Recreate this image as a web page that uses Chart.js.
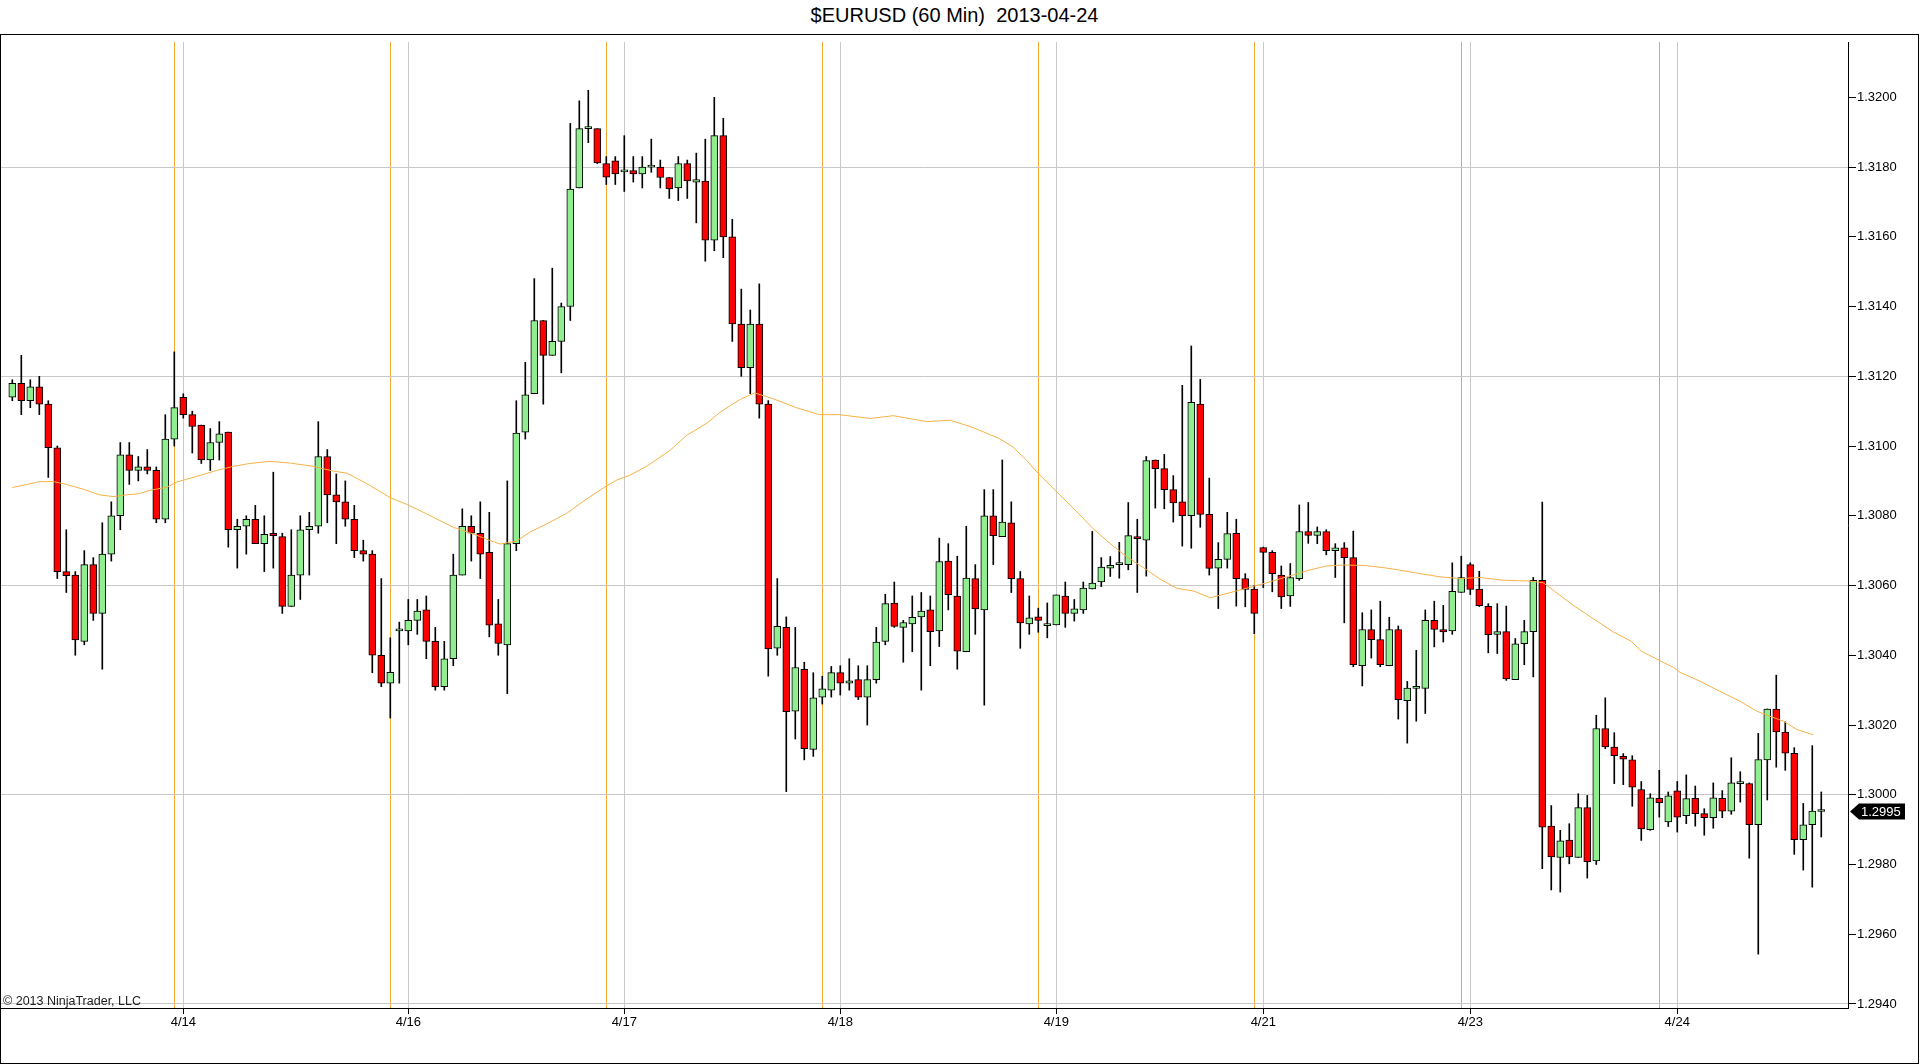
<!DOCTYPE html>
<html>
<head>
<meta charset="utf-8">
<script src="https://cdn.jsdelivr.net/npm/chart.js@4.4.0/dist/chart.umd.min.js"></script>
<style>
body { margin: 0; background: #fff; width: 1920px; height: 1064px; overflow: hidden; font-family: "Liberation Sans", Arial, sans-serif; }
#title { position: absolute; left: 0; top: 0; width: 1909px; height: 34px; text-align: center; font-size: 20px; line-height: 30px; color: #000; white-space: pre; }
#frame { position: absolute; left: 0; top: 34px; width: 1917px; height: 1028px; border: 1px solid #000; }
canvas { display: block; }
</style>
</head>
<body>
<div id="title">$EURUSD (60 Min)  2013-04-24</div>
<div id="frame"><canvas id="chart" width="1917" height="1028"></canvas></div>
<script>
"use strict";

// hourly bars, one per candle index
const opens = [
	1.3114, 1.3118, 1.3113, 1.3117, 1.3112, 1.30995, 1.3064, 1.3063, 1.3044, 1.3066,
	1.3052, 1.3069, 1.3080, 1.30975, 1.3093, 1.3094, 1.3093, 1.3079, 1.3102, 1.3114,
	1.3109, 1.3106, 1.3096, 1.3101, 1.3104, 1.3076, 1.3077, 1.3079, 1.3072, 1.3075,
	1.3074, 1.3054, 1.3063, 1.3076, 1.3077, 1.3097, 1.3086, 1.3084, 1.3079, 1.3070,
	1.3069, 1.3040, 1.3032, 1.3047, 1.3047, 1.3050, 1.3053, 1.3044, 1.3031, 1.3039,
	1.3063, 1.3077, 1.3075, 1.30695, 1.3049, 1.3043, 1.3072, 1.3104, 1.3115, 1.3136,
	1.3126, 1.3130, 1.3140, 1.3174, 1.3191, 1.3191, 1.3181, 1.31818, 1.31786, 1.3179,
	1.3178, 1.3180, 1.3180, 1.3177, 1.3174, 1.3181, 1.31757, 1.3176, 1.3159, 1.3189,
	1.3160, 1.3135, 1.31225, 1.3135, 1.3112, 1.3042, 1.3048, 1.3024, 1.3036, 1.3013,
	1.3028, 1.3030, 1.3035, 1.3032, 1.3033, 1.3028, 1.3033, 1.3044, 1.3055, 1.3048,
	1.3049, 1.3051, 1.3053, 1.3047, 1.3067, 1.3057, 1.3041, 1.3062, 1.3053, 1.3080,
	1.3074, 1.3078, 1.3062, 1.3049, 1.3051, 1.30485, 1.30487, 1.3057, 1.3052, 1.3053,
	1.3059, 1.3061, 1.3065, 1.3066, 1.3066, 1.3074, 1.3073, 1.3096, 1.30935, 1.30875,
	1.3084, 1.3080, 1.3112, 1.30804, 1.3065, 1.30675, 1.3075, 1.3062, 1.3059, 1.30709,
	1.30695, 1.3063, 1.3057, 1.3062, 1.30755, 1.30744, 1.30755, 1.3070, 1.30708, 1.3068,
	1.3037, 1.30474, 1.30445, 1.3037, 1.30474, 1.3027, 1.30305, 1.30305, 1.3050, 1.30474,
	1.3047, 1.3058, 1.3066, 1.3059, 1.3054, 1.3046, 1.30468, 1.3033, 1.30433, 1.30468,
	1.30615, 1.2991, 1.2982, 1.2987, 1.2982, 1.29963, 1.2981, 1.3019, 1.30137, 1.3011,
	1.3010, 1.30015, 1.2990, 1.2999, 1.29922, 1.30011, 1.2994, 1.2999, 1.29946, 1.29934,
	1.2999, 1.29953, 1.30032, 1.30032, 1.29914, 1.3010, 1.30246, 1.3018, 1.30119, 1.29871,
	1.29914, 1.29952
];
const highs = [
	1.3119, 1.3126, 1.3119, 1.3120, 1.3113, 1.3100, 1.3076, 1.3064, 1.3070, 1.3068,
	1.3078, 1.3084, 1.3101, 1.3101, 1.3097, 1.3099, 1.3094, 1.3109, 1.3127, 1.3115,
	1.3110, 1.3106, 1.3105, 1.3107, 1.3104, 1.3079, 1.3080, 1.3083, 1.3080, 1.30925,
	1.3075, 1.3076, 1.3080, 1.3081, 1.3107, 1.3099, 1.3092, 1.3090, 1.3083, 1.3073,
	1.3070, 1.3062, 1.3045, 1.30495, 1.3056, 1.3056, 1.3057, 1.3048, 1.3044, 1.3069,
	1.3082, 1.3080, 1.3084, 1.3081, 1.3056, 1.3090, 1.3113, 1.3124, 1.3148, 1.3136,
	1.3151, 1.3141, 1.31925, 1.3199, 1.3202, 1.3191, 1.3183, 1.3183, 1.3189, 1.3183,
	1.3183, 1.3188, 1.3182, 1.3177, 1.3183, 1.3182, 1.3184, 1.3188, 1.3200, 1.3194,
	1.3165, 1.3145, 1.3139, 1.31465, 1.3113, 1.3062, 1.3051, 1.3048, 1.3038, 1.3035,
	1.3034, 1.30368, 1.3037, 1.3039, 1.3037, 1.3037, 1.3048, 1.30575, 1.3061, 1.3050,
	1.3057, 1.3058, 1.3057, 1.30736, 1.3072, 1.30684, 1.3077, 1.3066, 1.30875, 1.30875,
	1.3096, 1.3084, 1.3064, 1.3057, 1.30535, 1.3055, 1.30573, 1.3061, 1.3056, 1.3061,
	1.30755, 1.3068, 1.30683, 1.30724, 1.30838, 1.3079, 1.3097, 1.3096, 1.30976, 1.30915,
	1.31174, 1.31287, 1.31191, 1.30908, 1.30723, 1.3081, 1.3079, 1.30634, 1.3060, 1.3071,
	1.3070, 1.30656, 1.30663, 1.30831, 1.30838, 1.30768, 1.3076, 1.3072, 1.30723, 1.30756,
	1.30522, 1.3053, 1.30555, 1.30509, 1.30484, 1.30325, 1.30414, 1.3053, 1.30555, 1.30543,
	1.30665, 1.30684, 1.30665, 1.30641, 1.30548, 1.30548, 1.30541, 1.30448, 1.3050, 1.30623,
	1.30839, 1.29969, 1.29898, 1.29917, 1.30003, 1.29998, 1.30228, 1.30278, 1.30178, 1.30118,
	1.30112, 1.30038, 1.30003, 1.3007, 1.30008, 1.30038, 1.30057, 1.30025, 1.2996, 1.30034,
	1.30012, 1.30106, 1.30066, 1.30034, 1.30176, 1.30246, 1.30343, 1.30209, 1.30135, 1.29975,
	1.30141, 1.30008
];
const lows = [
	1.3113, 1.3109, 1.3111, 1.3109, 1.3091, 1.3062, 1.3058, 1.3040, 1.3043, 1.3050,
	1.3036, 1.3067, 1.3076, 1.3089, 1.3090, 1.3092, 1.3078, 1.3078, 1.3100, 1.3108,
	1.3098, 1.3095, 1.3093, 1.3096, 1.3071, 1.3065, 1.3069, 1.3072, 1.3064, 1.3065,
	1.3052, 1.3054, 1.3056, 1.3063, 1.3075, 1.3078, 1.3072, 1.3077, 1.3068, 1.3067,
	1.3035, 1.3031, 1.3022, 1.3032, 1.3043, 1.3046, 1.3039, 1.3030, 1.3030, 1.3037,
	1.3063, 1.3067, 1.3062, 1.30453, 1.3040, 1.3029, 1.3070, 1.3102, 1.3115, 1.3112,
	1.3126, 1.3121, 1.3136, 1.3174, 1.3187, 1.3181, 1.3175, 1.3175, 1.3173, 1.31757,
	1.3174, 1.31785, 1.3174, 1.3171, 1.31704, 1.3171, 1.3164, 1.3153, 1.3156, 1.3154,
	1.3130, 1.3120, 1.3115, 1.3108, 1.3034, 1.3040, 1.30009, 1.3016, 1.3010, 1.3011,
	1.3026, 1.3028, 1.30286, 1.3030, 1.30273, 1.3020, 1.3032, 1.3043, 1.3048, 1.3038,
	1.3041, 1.3030, 1.3037, 1.30425, 1.3053, 1.3036, 1.3041, 1.3046, 1.30257, 1.3066,
	1.3074, 1.3058, 1.3042, 1.3046, 1.30466, 1.3045, 1.30487, 1.3048, 1.30498, 1.3052,
	1.3059, 1.30597, 1.30626, 1.30621, 1.30645, 1.3058, 1.30627, 1.30822, 1.3082, 1.30782,
	1.30713, 1.30707, 1.30767, 1.3063, 1.30534, 1.3065, 1.30541, 1.30539, 1.30462, 1.30594,
	1.30582, 1.30534, 1.3054, 1.30615, 1.30721, 1.3072, 1.30688, 1.30623, 1.30493, 1.30367,
	1.30312, 1.30392, 1.30367, 1.3037, 1.30217, 1.30148, 1.30211, 1.30233, 1.30424, 1.30438,
	1.3046, 1.3058, 1.30574, 1.3054, 1.30407, 1.30405, 1.30328, 1.3033, 1.30373, 1.30338,
	1.29788, 1.29727, 1.29721, 1.29802, 1.2982, 1.29761, 1.2980, 1.30132, 1.30032, 1.30029,
	1.29967, 1.29869, 1.29898, 1.29936, 1.29909, 1.29893, 1.29917, 1.2991, 1.29884, 1.29904,
	1.29934, 1.29944, 1.29979, 1.29818, 1.29543, 1.29985, 1.30079, 1.3007, 1.29829, 1.29784,
	1.29735, 1.29879
];
const closes = [
	1.3118, 1.3113, 1.3117, 1.3112, 1.30995, 1.3064, 1.30628, 1.30444, 1.3066, 1.3052,
	1.3069, 1.3080, 1.30975, 1.3093, 1.3094, 1.3093, 1.3079, 1.3102, 1.3111, 1.3109,
	1.31056, 1.3096, 1.3101, 1.31035, 1.3076, 1.3077, 1.3079, 1.3072, 1.30747, 1.30743,
	1.3054, 1.3063, 1.3076, 1.3077, 1.3097, 1.3086, 1.3084, 1.3079, 1.3070, 1.3069,
	1.3040, 1.3032, 1.30351, 1.3047, 1.3050, 1.30527, 1.3044, 1.3031, 1.3039, 1.3063,
	1.3077, 1.3075, 1.3069, 1.30486, 1.30434, 1.3072, 1.31037, 1.31147, 1.3136, 1.3126,
	1.3130, 1.3140, 1.31737, 1.3191, 1.3191, 1.31812, 1.31771, 1.3178, 1.31786, 1.3178,
	1.3180, 1.3180, 1.3177, 1.31737, 1.3181, 1.3176, 1.31764, 1.3159, 1.3189, 1.3160,
	1.3135, 1.31225, 1.3135, 1.3112, 1.30418, 1.30483, 1.30238, 1.30365, 1.30132, 1.30278,
	1.30304, 1.3035, 1.3032, 1.30327, 1.3028, 1.3033, 1.30438, 1.30548, 1.30483, 1.30494,
	1.30509, 1.30527, 1.30468, 1.30669, 1.30574, 1.30412, 1.30621, 1.30533, 1.3080, 1.30743,
	1.30782, 1.3062, 1.30493, 1.30507, 1.3050, 1.30485, 1.30573, 1.3052, 1.30533, 1.30593,
	1.30607, 1.30653, 1.30658, 1.3066, 1.30743, 1.30734, 1.30958, 1.30935, 1.30875, 1.30837,
	1.3080, 1.31125, 1.30804, 1.30649, 1.30675, 1.30749, 1.3062, 1.30589, 1.3052, 1.30695,
	1.30634, 1.30567, 1.30623, 1.30755, 1.30744, 1.30755, 1.3070, 1.30708, 1.3068, 1.30373,
	1.30474, 1.30445, 1.30373, 1.30474, 1.30273, 1.30306, 1.30305, 1.3050, 1.30474, 1.30467,
	1.30583, 1.30623, 1.30589, 1.30542, 1.30459, 1.30468, 1.30332, 1.30433, 1.30468, 1.30615,
	1.29907, 1.29822, 1.29868, 1.29822, 1.29963, 1.29808, 1.3019, 1.30137, 1.30112, 1.30102,
	1.30022, 1.29902, 1.29991, 1.29977, 1.29997, 1.29936, 1.29989, 1.29946, 1.29934, 1.29991,
	1.29953, 1.30034, 1.30032, 1.29914, 1.30101, 1.30246, 1.3018, 1.30119, 1.29871, 1.29914,
	1.29953, 1.29952
];

// moving average (candle index, price)
const maIndex = [
	0, 3.1, 4.6, 6.0, 7.9, 9.7, 11.2, 12.7, 14.0, 15.3, 17.2, 18.3, 20.9, 22.7, 24.6, 26.4,
	28.6, 30.9, 33.4, 35.7, 37.2, 39.4, 42.0, 43.8, 46.0, 49.0, 51.2, 53.1,
	54.2, 56.0, 57.5, 59.4, 61.6, 63.8, 66.0, 67.2, 68.6, 70.5, 73.1, 74.9, 77.2, 78.6, 79.7,
	80.9, 82.5, 84.5, 87.1, 89.7, 91.9, 95.3, 97.9, 101.6, 104.2, 106.4,
	107.5, 109.7, 111.2, 112.7, 114.0, 116.0, 118.3, 120.1, 122.0, 123.8, 125.7, 127.5, 129.4, 131.3, 133.1,
	134.2, 136.4, 139.4, 141.6, 143.8, 146.0, 147.9, 150.5, 152.7, 154.2, 156.0, 157.9,
	158.6, 160.9, 163.1, 165.7, 168.6, 170.1, 171.2, 173.4, 176.0, 177.9, 179.9, 181.0, 183.1, 184.6,
	185.3, 187.5, 189.7, 192.0, 193.8, 195.3, 196.8, 198.3, 200.1
];
const maValue = [
	1.30881, 1.30898, 1.30898, 1.3089, 1.30876, 1.3086, 1.30855, 1.3086, 1.30863, 1.30873, 1.30882, 1.30897, 1.30916, 1.3093, 1.30942, 1.3095,
	1.30956, 1.30951, 1.30942, 1.30928, 1.30922, 1.30892, 1.30852, 1.30833, 1.30806, 1.30767, 1.30748, 1.30729,
	1.30719, 1.30727, 1.30753, 1.30777, 1.30807, 1.30848, 1.30885, 1.30903, 1.30916, 1.30942, 1.30988, 1.3103, 1.31066, 1.31096, 1.31115,
	1.31134, 1.31152, 1.31136, 1.3111, 1.3109, 1.3109, 1.31079, 1.31087, 1.3107, 1.31074, 1.31056,
	1.31045, 1.31021, 1.30997, 1.30959, 1.30921, 1.3087, 1.30811, 1.30763, 1.3072, 1.30683, 1.30651, 1.30619, 1.30592, 1.30584, 1.30565,
	1.30572, 1.30587, 1.30608, 1.30625, 1.30642, 1.30656, 1.30659, 1.30657, 1.3065, 1.30644, 1.30636, 1.30628,
	1.30625, 1.3062, 1.30623, 1.30615, 1.30613, 1.30608, 1.30587, 1.30544, 1.30499, 1.30467, 1.3044, 1.30412, 1.30384, 1.30365,
	1.30351, 1.30326, 1.30297, 1.30268, 1.3024, 1.30225, 1.30211, 1.30187, 1.30172
];

const dateTickIndex = [19, 44, 68, 92, 116, 139, 162, 185];
const dateTickLabels = ["4/14", "4/16", "4/17", "4/18", "4/19", "4/21", "4/23", "4/24"];
const sessionBreakIndex = [18, 42, 66, 90, 114, 138, 161, 183];
const priceTicks = [1.2940, 1.2960, 1.2980, 1.3000, 1.3020, 1.3040, 1.3060, 1.3080, 1.3100, 1.3120, 1.3140, 1.3160, 1.3180, 1.3200];
const priceGridLines = [1.2940, 1.3000, 1.3060, 1.3120, 1.3180];

const upColor = "#90ee90";
const downColor = "#ff0000";

Chart.defaults.font.family = "'Liberation Sans', Arial, sans-serif";
Chart.defaults.font.size = 13;
Chart.defaults.color = "#000";

const buildCandles = () => {
	let wicks = [];
	let bodies = [];
	let bodyColors = [];
	for (let index = 0; index < closes.length; index++) {
		wicks.push({ x: index, y: [lows[index], highs[index]] });
		bodies.push({ x: index, y: [opens[index], closes[index]] });
		bodyColors.push(closes[index] >= opens[index] ? upColor : downColor);
	}
	return { wicks, bodies, bodyColors };
};

const lastPriceMarker = {
	id: "lastPriceMarker",
	afterDraw: chart => {
		let ctx = chart.ctx;
		let yScale = chart.scales.y;
		let lastClose = closes[closes.length - 1];
		let y = Math.round(yScale.getPixelForValue(lastClose)) + 0.5;
		let left = chart.chartArea.right + 2;
		ctx.save();
		ctx.fillStyle = "#000";
		ctx.beginPath();
		ctx.moveTo(left, y);
		ctx.lineTo(left + 9, y - 8);
		ctx.lineTo(left + 55, y - 8);
		ctx.lineTo(left + 55, y + 8);
		ctx.lineTo(left + 9, y + 8);
		ctx.closePath();
		ctx.fill();
		ctx.fillStyle = "#fff";
		ctx.font = "13px 'Liberation Sans', Arial, sans-serif";
		ctx.textBaseline = "middle";
		ctx.textAlign = "left";
		ctx.fillText(lastClose.toFixed(4), left + 11, y + 1);
		ctx.restore();
	}
};

const copyrightNote = {
	id: "copyrightNote",
	afterDatasetsDraw: chart => {
		let ctx = chart.ctx;
		ctx.save();
		ctx.fillStyle = "#222";
		ctx.font = "12.5px 'Liberation Sans', Arial, sans-serif";
		ctx.textBaseline = "alphabetic";
		ctx.textAlign = "left";
		ctx.fillText("\u00a9 2013 NinjaTrader, LLC", chart.chartArea.left + 2, chart.chartArea.bottom - 3);
		ctx.restore();
	}
};

const buildChart = () => {
	let canvas = document.querySelector("canvas#chart");
	let candles = buildCandles();
	new Chart(canvas, {
		type: "bar",
		data: {
			datasets: [{
				label: "SMA",
				type: "line",
				data: maIndex.map((index, i) => ({ x: index, y: maValue[i] })),
				borderColor: "rgb(245,178,70)",
				borderWidth: 1,
				pointRadius: 0,
				tension: 0,
				order: 1
			}, {
				label: "bodies",
				data: candles.bodies,
				backgroundColor: candles.bodyColors,
				borderColor: "#000",
				borderWidth: 1,
				borderSkipped: false,
				barThickness: 7,
				minBarLength: 2,
				grouped: false,
				order: 2
			}, {
				label: "wicks",
				data: candles.wicks,
				backgroundColor: "#000",
				borderWidth: 0,
				barThickness: 1,
				grouped: false,
				order: 3
			}]
		},
		options: {
			responsive: false,
			devicePixelRatio: 1,
			animation: false,
			layout: {
				padding: { top: 7, left: 0, right: 0, bottom: 0 }
			},
			scales: {
				x: {
					type: "linear",
					position: "bottom",
					min: -1.256,
					max: 203.97,
					offset: false,
					afterBuildTicks: scale => {
						scale.ticks = dateTickIndex.map(value => ({ value: value }));
					},
					afterFit: scale => {
						scale.height = 55;
						scale.paddingLeft = 0;
						scale.paddingRight = 0;
					},
					ticks: {
						autoSkip: false,
						maxRotation: 0,
						padding: 1,
						color: "#000",
						callback: value => dateTickLabels[dateTickIndex.indexOf(value)]
					},
					grid: {
						offset: false,
						color: "#c8c8c8",
						tickColor: "#000",
						tickLength: 6
					},
					border: {
						color: "#000"
					}
				},
				sessions: {
					type: "linear",
					position: "bottom",
					min: -1.256,
					max: 203.97,
					offset: false,
					afterBuildTicks: scale => {
						scale.ticks = sessionBreakIndex.map(value => ({ value: value }));
					},
					afterFit: scale => {
						scale.height = 0;
					},
					ticks: {
						display: false
					},
					grid: {
						offset: false,
						color: "#f0a830",
						drawTicks: false
					},
					border: {
						display: false
					}
				},
				y: {
					type: "linear",
					position: "right",
					min: 1.293885,
					max: 1.321586,
					afterBuildTicks: scale => {
						scale.ticks = priceTicks.map(value => ({ value: value }));
					},
					afterFit: scale => {
						scale.width = 70;
						scale.paddingTop = 0;
						scale.paddingBottom = 0;
					},
					ticks: {
						padding: 1,
						color: "#000",
						callback: value => value.toFixed(4)
					},
					grid: {
						color: context => (context.tick && priceGridLines.some(price => Math.abs(price - context.tick.value) < 1e-6)) ? "#c8c8c8" : "rgba(0,0,0,0)",
						tickColor: "#000",
						tickLength: 8
					},
					border: {
						color: "#000"
					}
				}
			},
			plugins: {
				legend: { display: false },
				tooltip: { enabled: false },
				title: { display: false }
			}
		},
		plugins: [copyrightNote, lastPriceMarker]
	});
};

buildChart();
</script>
</body>
</html>
